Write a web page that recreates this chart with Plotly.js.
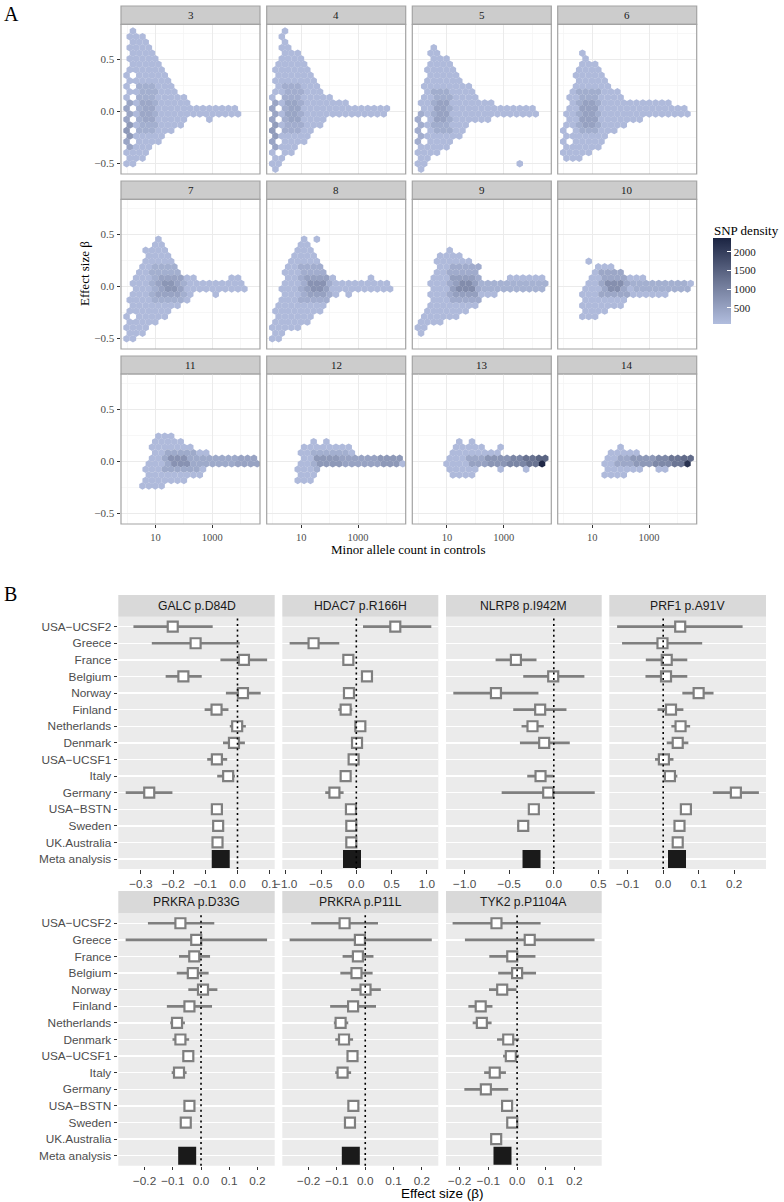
<!DOCTYPE html>
<html><head><meta charset="utf-8">
<script src="https://cdn.plot.ly/plotly-3.0.1.min.js"></script>
<style>html,body{margin:0;padding:0;background:#fff}#chart{width:784px;height:1202px}</style>
</head><body><div id="chart"></div>
<script>
// ---------------- Panel A data (hexbin shapes) ----------------
// spans: [beta (row), log10(MAC) from, log10(MAC) to]; holes: [log10 x, beta from, beta to]
// dense: [beta from, beta to, log10 from, log10 to, SNP density]
const facetsA = ["3","4","5","6","7","8","9","10","11","12","13","14"];
const spans3 = [[0.77,0.27,0.27],[0.72,0.2,0.5],[0.67,0.2,0.56],[0.61,0.2,0.65],[0.56,0.2,0.8],[0.51,0.15,1.0],[0.45,0.15,1.2],[0.40,0.1,1.25],[0.35,0.0,1.33],[0.29,0.0,1.45],[0.24,0.0,1.6],[0.19,0.0,1.75],[0.13,0.0,1.95],[0.08,0.0,2.2],[0.03,0.0,3.55],[0.03,3.83,3.83],[-0.03,0.0,4.0],[-0.08,0.0,2.0],[-0.08,2.82,2.82],[-0.13,0.0,1.8],[-0.19,0.0,1.6],[-0.24,0.0,1.2],[-0.29,0.0,1.05],[-0.35,0.0,0.86],[-0.40,0.0,0.7],[-0.45,0.0,0.5],[-0.51,0.0,0.1]];
const holes3 = [[0.19,-0.35,0.35]];
const dense3 = [[-0.35,0.1,0.0,0.1,450],[-0.25,-0.1,0.0,0.1,650],[-0.2,0.25,0.4,1.0,300],[-0.1,0.1,0.5,0.9,420]];

const spans4 = [[0.77,0.41,0.41],[0.72,0.41,0.41],[0.67,0.36,0.48],[0.61,0.36,0.6],[0.56,0.36,0.85],[0.51,0.3,0.95],[0.45,0.25,1.1],[0.40,0.2,1.2],[0.35,0.15,1.35],[0.29,0.12,1.45],[0.24,0.1,1.6],[0.19,0.1,1.75],[0.13,0.0,2.1],[0.08,0.0,2.5],[0.03,0.0,4.0],[-0.03,0.0,3.9],[-0.08,0.0,1.75],[-0.13,0.0,1.6],[-0.19,0.0,1.4],[-0.24,0.0,1.2],[-0.29,0.0,1.0],[-0.35,0.0,0.75],[-0.40,0.0,0.6],[-0.45,0.0,0.36],[-0.51,0.0,0.1],[-0.56,0.0,0.0]];
const holes4 = [[0.19,-0.40,0.12]];
const dense4 = [[-0.35,0.1,0.0,0.1,450],[-0.25,-0.1,0.0,0.1,600],[-0.2,0.25,0.4,1.0,320],[-0.1,0.1,0.5,0.9,460]];

const spans5 = [[0.61,0.53,0.53],[0.56,0.5,0.75],[0.51,0.47,1.0],[0.45,0.45,1.1],[0.40,0.4,1.2],[0.35,0.35,1.35],[0.29,0.3,1.5],[0.24,0.28,1.7],[0.19,0.25,1.85],[0.13,0.25,2.0],[0.08,0.2,2.6],[0.03,0.1,4.0],[-0.03,0.0,4.05],[-0.08,0.0,2.5],[-0.13,0.0,1.7],[-0.19,0.0,1.55],[-0.24,0.0,1.35],[-0.29,0.0,1.1],[-0.35,0.0,0.95],[-0.40,0.0,0.6],[-0.45,0.0,0.4],[-0.51,0.0,0.1],[-0.56,0.0,0.0],[-0.51,3.64,3.64]];
const holes5 = [[0.19,-0.35,-0.02]];
const dense5 = [[-0.3,0.0,0.0,0.1,320],[-0.2,0.2,0.5,1.15,330],[-0.1,0.1,0.6,1.0,500]];

const spans6 = [[0.56,0.7,0.7],[0.51,0.65,0.8],[0.45,0.6,1.05],[0.40,0.55,1.15],[0.35,0.5,1.3],[0.29,0.45,1.45],[0.24,0.4,1.65],[0.19,0.35,1.8],[0.13,0.3,1.95],[0.08,0.3,3.6],[0.03,0.25,4.25],[-0.03,0.2,4.25],[-0.08,0.15,2.7],[-0.13,0.1,2.0],[-0.19,0.0,1.8],[-0.24,0.0,1.5],[-0.29,0.0,1.3],[-0.35,0.0,1.1],[-0.40,0.0,0.9],[-0.45,0.0,0.5]];
const holes6 = [[0.19,-0.3,-0.18],[0.86,-0.35,-0.33]];
const dense6 = [[-0.2,0.2,0.55,1.2,330],[-0.12,0.08,0.7,1.1,520]];

const spans7 = [[0.45,1.0,1.0],[0.40,0.9,1.15],[0.35,0.75,1.35],[0.29,0.65,1.45],[0.24,0.55,1.55],[0.19,0.45,1.7],[0.13,0.4,1.8],[0.08,0.35,2.3],[0.08,3.6,3.85],[0.03,0.3,4.05],[-0.03,0.3,4.1],[-0.08,0.25,2.2],[-0.08,3.2,3.2],[-0.13,0.2,2.0],[-0.19,0.15,1.7],[-0.24,0.1,1.4],[-0.29,0.0,1.25],[-0.35,0.0,0.95],[-0.40,0.0,0.7],[-0.45,0.0,0.45],[-0.51,0.0,0.2]];
const holes7 = [[0.19,-0.29,-0.29]];
const dense7 = [[-0.15,0.2,0.9,2.0,300],[-0.1,0.1,1.1,1.9,480],[-0.05,0.05,1.3,1.7,700]];

const spans8 = [[0.45,1.06,1.06],[0.45,1.6,1.6],[0.40,1.0,1.15],[0.35,0.9,1.25],[0.29,0.8,1.35],[0.24,0.7,1.5],[0.19,0.6,1.6],[0.13,0.5,1.8],[0.08,0.45,2.0],[0.08,3.45,3.45],[0.03,0.4,4.05],[-0.03,0.4,4.1],[-0.08,0.35,2.2],[-0.08,2.6,2.6],[-0.13,0.3,1.9],[-0.19,0.25,1.8],[-0.24,0.2,1.55],[-0.29,0.15,1.3],[-0.35,0.1,1.1],[-0.40,0.0,0.8],[-0.45,0.0,0.4],[-0.51,0.05,0.25]];
const holes8 = [];
const dense8 = [[-0.15,0.2,1.0,2.0,320],[-0.1,0.1,1.2,1.9,520],[-0.05,0.05,1.35,1.75,750]];

const spans9 = [[0.35,1.06,1.06],[0.29,0.85,1.45],[0.24,0.75,1.7],[0.19,0.65,2.0],[0.13,0.55,2.1],[0.08,0.47,2.2],[0.08,3.3,4.3],[0.03,0.45,4.4],[-0.03,0.45,4.45],[-0.08,0.45,2.7],[-0.13,0.45,2.1],[-0.19,0.4,1.9],[-0.24,0.35,1.6],[-0.29,0.3,1.3],[-0.35,0.05,0.7],[-0.40,0.0,0.3],[-0.45,0.0,0.0]];
const holes9 = [];
const dense9 = [[-0.05,0.05,2.1,4.45,250],[-0.15,0.2,1.1,2.1,350],[-0.1,0.1,1.25,2.0,550],[-0.05,0.05,1.4,1.9,850]];

const spans10 = [[0.24,0.96,0.96],[0.19,1.2,1.7],[0.13,1.0,2.0],[0.08,0.95,2.7],[0.03,0.8,4.4],[-0.03,0.75,4.4],[-0.08,0.75,3.6],[-0.13,0.7,2.2],[-0.19,0.7,1.9],[-0.24,0.65,1.5],[-0.29,0.75,1.05]];
const holes10 = [];
const dense10 = [[-0.05,0.05,2.4,4.4,280],[-0.1,0.12,1.3,2.2,420],[-0.05,0.05,1.5,2.0,800]];

const spans11 = [[0.24,1.15,1.5],[0.19,0.9,1.98],[0.13,0.9,2.27],[0.08,1.0,2.68],[0.03,0.82,4.55],[-0.03,0.75,4.55],[-0.08,0.75,2.6],[-0.13,0.7,2.45],[-0.19,0.7,1.98],[-0.24,0.48,0.48],[-0.24,0.84,1.28]];
const holes11 = [];
const dense11 = [[-0.08,0.1,1.3,2.4,380],[-0.03,0.03,1.6,2.2,750],[-0.03,0.03,2.2,4.55,380],[-0.03,0.03,3.9,4.55,480]];

const spans12 = [[0.19,1.45,1.45],[0.19,1.98,1.98],[0.13,1.12,2.7],[0.08,1.0,2.7],[0.03,1.0,4.4],[-0.03,1.06,4.5],[-0.08,0.88,1.65],[-0.13,0.88,1.47],[-0.19,0.94,1.35]];
const holes12 = [];
const dense12 = [[-0.08,0.1,1.4,2.6,300],[-0.03,0.03,1.6,2.4,650],[-0.03,0.03,2.4,4.5,480],[-0.03,0.03,3.8,4.5,650]];

const spans13 = [[0.19,1.5,1.5],[0.19,1.88,1.88],[0.13,1.29,2.17],[0.13,2.82,2.82],[0.08,1.18,2.46],[0.08,2.75,2.75],[0.03,1.12,4.51],[-0.03,1.06,4.4],[-0.08,1.12,2.0],[-0.08,2.82,2.82],[-0.08,3.75,3.75],[-0.13,1.12,1.95]];
const holes13 = [];
const dense13 = [[0.03,0.03,1.8,2.5,400],[-0.03,-0.03,1.8,2.5,500],[-0.03,0.03,2.5,3.2,700],[-0.03,0.03,3.2,3.8,950],[-0.03,0.03,3.8,4.2,1250],[0.03,0.03,4.2,4.51,1450],[-0.03,-0.03,4.2,4.3,1700],[-0.03,-0.03,4.35,4.4,2300]];

const spans14 = [[0.13,1.95,1.95],[0.08,1.62,2.61],[0.03,1.5,4.48],[-0.03,1.44,4.37],[-0.08,1.44,2.6],[-0.08,3.3,3.3],[-0.08,3.6,3.6],[-0.13,1.5,2.08]];
const holes14 = [];
const dense14 = [[-0.03,0.03,1.9,2.5,400],[-0.03,0.03,2.5,3.2,650],[-0.03,0.03,3.2,3.8,900],[-0.03,0.03,3.8,4.2,1200],[0.03,0.03,4.2,4.48,1350],[-0.03,-0.03,4.2,4.3,1600],[-0.03,-0.03,4.35,4.4,2150]];

const colorbarTicks = [500,1000,1500,2000];

// ---------------- Panel B data (forest plots) ----------------
const studies = ["USA−UCSF2","Greece","France","Belgium","Norway","Finland","Netherlands","Denmark","USA−UCSF1","Italy","Germany","USA−BSTN","Sweden","UK.Australia","Meta analysis"];
const genes = ["GALC p.D84D","HDAC7 p.R166H","NLRP8 p.I942M","PRF1 p.A91V","PRKRA p.D33G","PRKRA p.P11L","TYK2 p.P1104A"];

const galcEst = [-0.201,-0.130,0.020,-0.168,0.017,-0.065,-0.001,-0.011,-0.064,-0.029,-0.274,-0.064,-0.060,-0.062,-0.052];
const galcLo  = [-0.323,-0.266,-0.053,-0.223,-0.036,-0.102,-0.024,-0.045,-0.094,-0.063,-0.347,-0.072,-0.068,-0.070,-0.060];
const galcHi  = [-0.077,0.007,0.092,-0.111,0.072,-0.028,0.026,0.023,-0.032,-0.008,-0.202,-0.056,-0.052,-0.054,-0.044];

const hdacEst = [0.552,-0.605,-0.113,0.151,-0.104,-0.151,0.057,0.010,-0.038,-0.151,-0.310,-0.076,-0.071,-0.071,-0.061];
const hdacLo  = [0.095,-0.944,-0.190,0.080,-0.170,-0.255,0.000,-0.050,-0.090,-0.200,-0.440,-0.100,-0.100,-0.100,-0.090];
const hdacHi  = [1.062,-0.241,-0.040,0.220,-0.040,-0.057,0.110,0.070,0.010,-0.100,-0.180,-0.050,-0.040,-0.040,-0.030];

const nlrpEst = [null,null,-0.425,-0.007,-0.649,-0.153,-0.239,-0.108,null,-0.149,-0.063,-0.224,-0.343,null,-0.250];
const nlrpLo  = [null,null,-0.653,-0.343,-1.127,-0.455,-0.362,-0.380,null,-0.298,-0.585,-0.280,-0.410,null,-0.300];
const nlrpHi  = [null,null,-0.194,0.343,-0.172,0.142,-0.112,0.179,null,-0.007,0.459,-0.170,-0.280,null,-0.200];

const prf1Est = [0.048,-0.002,0.010,0.008,0.100,0.022,0.049,0.041,0.002,0.019,0.205,0.064,0.046,0.041,0.039];
const prf1Lo  = [-0.130,-0.116,-0.049,-0.050,0.054,-0.016,0.023,0.010,-0.023,0.000,0.140,0.050,0.032,0.027,0.030];
const prf1Hi  = [0.224,0.110,0.068,0.068,0.142,0.057,0.076,0.071,0.029,0.040,0.270,0.078,0.060,0.055,0.048];

const d33gEst = [-0.073,-0.017,-0.024,-0.029,0.007,-0.041,-0.085,-0.073,-0.045,-0.078,null,-0.041,-0.054,null,-0.049];
const d33gLo  = [-0.188,-0.267,-0.078,-0.086,-0.045,-0.121,-0.109,-0.101,-0.060,-0.104,null,-0.055,-0.068,null,-0.058];
const d33gHi  = [0.047,0.234,0.032,0.027,0.058,0.039,-0.057,-0.042,-0.030,-0.051,null,-0.027,-0.040,null,-0.040];

const p11lEst = [-0.073,-0.019,-0.026,-0.031,0.001,-0.043,-0.087,-0.075,-0.045,-0.080,null,-0.042,-0.054,null,-0.051];
const p11lLo  = [-0.191,-0.267,-0.080,-0.088,-0.050,-0.124,-0.111,-0.106,-0.060,-0.106,null,-0.056,-0.068,null,-0.060];
const p11lHi  = [0.045,0.235,0.029,0.026,0.055,0.038,-0.060,-0.043,-0.030,-0.050,null,-0.028,-0.040,null,-0.042];

const tyk2Est = [-0.072,0.044,-0.017,0.000,-0.052,-0.127,-0.123,-0.031,-0.022,-0.078,-0.109,-0.035,-0.017,-0.073,-0.051];
const tyk2Lo  = [-0.225,-0.182,-0.097,-0.066,-0.098,-0.170,-0.155,-0.070,-0.049,-0.115,-0.184,-0.050,-0.032,-0.088,-0.060];
const tyk2Hi  = [0.082,0.270,0.064,0.066,-0.002,-0.086,-0.089,0.007,0.007,-0.039,-0.031,-0.020,-0.002,-0.058,-0.042];

const ticksGalc = [-0.3,-0.2,-0.1,0.0,0.1];
const ticksHdac = [-1.0,-0.5,0.0,0.5,1.0];
const ticksNlrp = [-1.0,-0.5,0.0,0.5];
const ticksPrf1 = [-0.1,0.0,0.1,0.2];
const ticksPrkra = [-0.2,-0.1,0.0,0.1,0.2];
const ticksTyk2 = [-0.2,-0.1,0.0,0.1,0.2];

// ---------------- layout geometry ----------------
const W = 784, H = 1202;
const PX = p => p / W, PY = p => 1 - p / H;
const colA = [[121,260],[266.7,405.7],[412.3,551.3],[557.7,696.7]];
const rowA = [[24.3,174],[199.3,349],[374,524]];
const stripA = [[6,24.3],[181,199.3],[356,374]];
const colB = [[118.3,274.7],[282.3,438.3],[446,601.7],[609.3,766]];
const rowB = [[616.7,869],[913.3,1165.7]];
const stripB = [[595,616.7],[891,913.3]];

const SERIF = "Liberation Serif, Times New Roman, serif";
const SANS = "Liberation Sans, Arial, Helvetica, sans-serif";

// ---------------- hex grid builder ----------------
const DX = 0.2245, DY = 0.0532, PH_EVEN = 4.466, PH_ODD = 4.354, BASE = 110;
function buildHex(spans, holes, dense) {
  const cells = new Map();
  spans.forEach(([y, a, b]) => {
    const k = Math.round(y / DY - 0.5);
    const p = (Math.abs(k) % 2 === 0) ? PH_EVEN : PH_ODD;
    let n = Math.floor((a - DX / 2 - p) / DX) + 1;
    for (; p + n * DX <= b + DX / 2; n++) {
      cells.set(k + "_" + n, {k: k, c: p + n * DX, v: BASE});
    }
  });
  holes.forEach(([x, y0, y1]) => {
    for (const [key, cell] of cells) {
      const yc = (cell.k + 0.5) * DY;
      if (yc >= y0 - DY / 4 && yc <= y1 + DY / 4 && Math.abs(cell.c - x) < DX / 4) cells.delete(key);
    }
  });
  dense.forEach(([y0, y1, x0, x1, v]) => {
    for (const cell of cells.values()) {
      const yc = (cell.k + 0.5) * DY;
      if (yc >= y0 - DY / 3 && yc <= y1 + DY / 3 && cell.c >= x0 - DX / 4 && cell.c <= x1 + DX / 4) cell.v = v;
    }
  });
  const xs = [], ys = [], vs = [];
  for (const cell of cells.values()) {
    xs.push(Math.pow(10, cell.c)); ys.push((cell.k + 0.5) * DY); vs.push(cell.v);
  }
  return {xs, ys, vs};
}

const hexData = [
  [spans3, holes3, dense3], [spans4, holes4, dense4], [spans5, holes5, dense5], [spans6, holes6, dense6],
  [spans7, holes7, dense7], [spans8, holes8, dense8], [spans9, holes9, dense9], [spans10, holes10, dense10],
  [spans11, holes11, dense11], [spans12, holes12, dense12], [spans13, holes13, dense13], [spans14, holes14, dense14]
];

const colorscale = [[0, "#B1BDDE"], [0.5, "#6B7593"], [1, "#1B2442"]];

const traces = [];
const layout = {
  width: W, height: H, margin: {l: 0, r: 0, t: 0, b: 0},
  paper_bgcolor: "#ffffff", plot_bgcolor: "rgba(0,0,0,0)",
  showlegend: false, shapes: [], annotations: [],
  font: {family: SERIF, color: "#1A1A1A"}
};

facetsA.forEach((lab, i) => {
  const r = Math.floor(i / 4), c = i % 4, ax = i + 1;
  const xa = "xaxis" + (ax === 1 ? "" : ax), ya = "yaxis" + (ax === 1 ? "" : ax);
  const xr = "x" + (ax === 1 ? "" : ax), yr = "y" + (ax === 1 ? "" : ax);
  const d = buildHex(hexData[i][0], hexData[i][1], hexData[i][2]);
  const mk = {symbol: "hexagon", size: 7.5, color: d.vs, colorscale: colorscale, cmin: 70, cmax: 2370, line: {width: 0}, showscale: i === 0};
  if (i === 0) {
    mk.colorbar = {x: PX(713), xanchor: "left", y: PY(281), yanchor: "middle", len: 86, lenmode: "pixels",
      thickness: 18, thicknessmode: "pixels", outlinewidth: 0, xpad: 0, ypad: 0,
      tickvals: colorbarTicks, ticks: "inside", ticklen: 4, tickcolor: "#ffffff", tickwidth: 1,
      tickfont: {family: SERIF, size: 11, color: "#222"}};
  }
  traces.push({type: "scatter", mode: "markers", x: d.xs, y: d.ys, xaxis: xr, yaxis: yr, marker: mk, hoverinfo: "skip"});
  layout[xa] = {domain: [PX(colA[c][0]), PX(colA[c][1])], anchor: yr, type: "log", range: [-0.22, 4.68],
    tickvals: [10, 1000], ticktext: ["10", "1000"], showticklabels: r === 2, ticks: r === 2 ? "outside" : "",
    ticklen: 3, tickcolor: "#333333", tickfont: {family: SERIF, size: 10.5, color: "#4D4D4D"},
    showgrid: true, gridcolor: "#EBEBEB", gridwidth: 1, zeroline: false, showline: false,
    minor: {tickvals: [1, 100, 10000], showgrid: true, gridcolor: "#F3F3F3", gridwidth: 0.7, ticks: ""}};
  layout[ya] = {domain: [PY(rowA[r][1]), PY(rowA[r][0])], anchor: xr, range: [-0.605, 0.837],
    tickvals: [-0.5, 0, 0.5], ticktext: ["−0.5", "0.0", "0.5"], showticklabels: c === 0, ticks: c === 0 ? "outside" : "",
    ticklen: 3.5, tickcolor: "#333333", tickfont: {family: SERIF, size: 11, color: "#4D4D4D"},
    showgrid: true, gridcolor: "#EBEBEB", gridwidth: 1, zeroline: false, showline: false,
    minor: {tickvals: [-0.25, 0.25, 0.75], showgrid: true, gridcolor: "#F3F3F3", gridwidth: 0.7, ticks: ""}};
  layout.shapes.push({type: "rect", xref: "paper", yref: "paper", x0: PX(colA[c][0]), x1: PX(colA[c][1]),
    y0: PY(rowA[r][1]), y1: PY(rowA[r][0]), line: {color: "#A3A3A3", width: 1.2}, fillcolor: "rgba(0,0,0,0)", layer: "above"});
  layout.shapes.push({type: "rect", xref: "paper", yref: "paper", x0: PX(colA[c][0]), x1: PX(colA[c][1]),
    y0: PY(stripA[r][1]), y1: PY(stripA[r][0]), line: {color: "#A3A3A3", width: 1.2}, fillcolor: "#CCCCCC", layer: "below"});
  layout.annotations.push({xref: "paper", yref: "paper", x: PX((colA[c][0] + colA[c][1]) / 2), y: PY((stripA[r][0] + stripA[r][1]) / 2),
    text: lab, showarrow: false, xanchor: "center", yanchor: "middle", font: {family: SERIF, size: 11, color: "#1A1A1A"}});
});

// ---------------- Panel B ----------------
const estB = [galcEst, hdacEst, nlrpEst, prf1Est, d33gEst, p11lEst, tyk2Est];
const loB = [galcLo, hdacLo, nlrpLo, prf1Lo, d33gLo, p11lLo, tyk2Lo];
const hiB = [galcHi, hdacHi, nlrpHi, prf1Hi, d33gHi, p11lHi, tyk2Hi];
const tickB = [ticksGalc, ticksHdac, ticksNlrp, ticksPrf1, ticksPrkra, ticksPrkra, ticksTyk2];
const rangeB = [[-0.37, 0.1155], [-1.048, 1.161], [-1.209, 0.537], [-0.152, 0.29], [-0.293, 0.261], [-0.293, 0.258], [-0.248, 0.295]];

genes.forEach((g, i) => {
  const r = Math.floor(i / 4), c = i % 4, ax = 13 + i;
  const xr = "x" + ax, yr = "y" + ax;
  const est = estB[i], lo = loB[i], hi = hiB[i];
  const nS = studies.length - 1;
  const sx = est.slice(0, nS), sy = studies.slice(0, nS);
  const ePlus = sx.map((v, j) => v === null ? null : hi[j] - v);
  const eMinus = sx.map((v, j) => v === null ? null : v - lo[j]);
  traces.push({type: "scatter", mode: "markers", x: sx, y: sy, xaxis: xr, yaxis: yr, hoverinfo: "skip",
    marker: {symbol: "square", size: 10, color: "#FFFFFF", line: {color: "#7F7F7F", width: 2.2}},
    error_x: {type: "data", symmetric: false, array: ePlus, arrayminus: eMinus, color: "#7F7F7F", thickness: 2.7, width: 0}});
  traces.push({type: "scatter", mode: "markers", x: [est[nS]], y: [studies[nS]], xaxis: xr, yaxis: yr, hoverinfo: "skip",
    marker: {symbol: "square", size: 18, color: "#1A1A1A", line: {width: 0}}});
  layout["xaxis" + ax] = {domain: [PX(colB[c][0]), PX(colB[c][1])], anchor: yr, range: rangeB[i],
    tickvals: tickB[i], tickformat: ".1f", ticks: "outside", ticklen: 3.7, tickcolor: "#333333", tickwidth: 1,
    tickfont: {family: SANS, size: 11.8, color: "#4D4D4D"}, showgrid: false, zeroline: false, showline: false};
  layout["yaxis" + ax] = {domain: [PY(rowB[r][1]), PY(rowB[r][0])], anchor: xr, type: "category",
    categoryorder: "array", categoryarray: studies, range: [14.6, -0.6],
    showticklabels: c === 0, ticks: c === 0 ? "outside" : "", ticklen: 3.7, tickcolor: "#333333",
    tickfont: {family: SANS, size: 11.8, color: "#4D4D4D"}, showgrid: true, gridcolor: "#FFFFFF", gridwidth: 1.4,
    zeroline: false, showline: false};
  layout.shapes.push({type: "rect", xref: "paper", yref: "paper", x0: PX(colB[c][0]), x1: PX(colB[c][1]),
    y0: PY(rowB[r][1]), y1: PY(rowB[r][0]), line: {width: 0}, fillcolor: "#EBEBEB", layer: "below"});
  layout.shapes.push({type: "rect", xref: "paper", yref: "paper", x0: PX(colB[c][0]), x1: PX(colB[c][1]),
    y0: PY(stripB[r][1]), y1: PY(stripB[r][0]), line: {width: 0}, fillcolor: "#D9D9D9", layer: "below"});
  layout.shapes.push({type: "line", xref: xr, yref: yr + " domain", x0: 0, x1: 0, y0: 0, y1: 1,
    line: {color: "#000000", width: 1.6, dash: "2px,3.4px"}, layer: "above"});
  layout.annotations.push({xref: "paper", yref: "paper", x: PX((colB[c][0] + colB[c][1]) / 2), y: PY((stripB[r][0] + stripB[r][1]) / 2),
    text: g, showarrow: false, xanchor: "center", yanchor: "middle", font: {family: SANS, size: 12.2, color: "#1A1A1A"}});
});

// ---------------- titles / labels ----------------
layout.annotations.push(
  {xref: "paper", yref: "paper", x: PX(2), y: PY(14), text: "A", showarrow: false, xanchor: "left", yanchor: "middle", font: {family: SERIF, size: 20, color: "#000"}},
  {xref: "paper", yref: "paper", x: PX(2), y: PY(594), text: "B", showarrow: false, xanchor: "left", yanchor: "middle", font: {family: SERIF, size: 20, color: "#000"}},
  {xref: "paper", yref: "paper", x: PX(84), y: PY(274), text: "Effect size β", textangle: -90, showarrow: false, xanchor: "center", yanchor: "middle", font: {family: SERIF, size: 13, color: "#000"}},
  {xref: "paper", yref: "paper", x: PX(409), y: PY(549), text: "Minor allele count in controls", showarrow: false, xanchor: "center", yanchor: "middle", font: {family: SERIF, size: 13, color: "#000"}},
  {xref: "paper", yref: "paper", x: PX(712), y: PY(230), text: "SNP density", showarrow: false, xanchor: "left", yanchor: "middle", font: {family: SERIF, size: 13, color: "#000"}},
  {xref: "paper", yref: "paper", x: PX(442), y: PY(1193), text: "Effect size (β)", showarrow: false, xanchor: "center", yanchor: "middle", font: {family: SANS, size: 13.5, color: "#000"}}
);

Plotly.newPlot("chart", traces, layout, {displayModeBar: false, staticPlot: true});
</script></body></html>
